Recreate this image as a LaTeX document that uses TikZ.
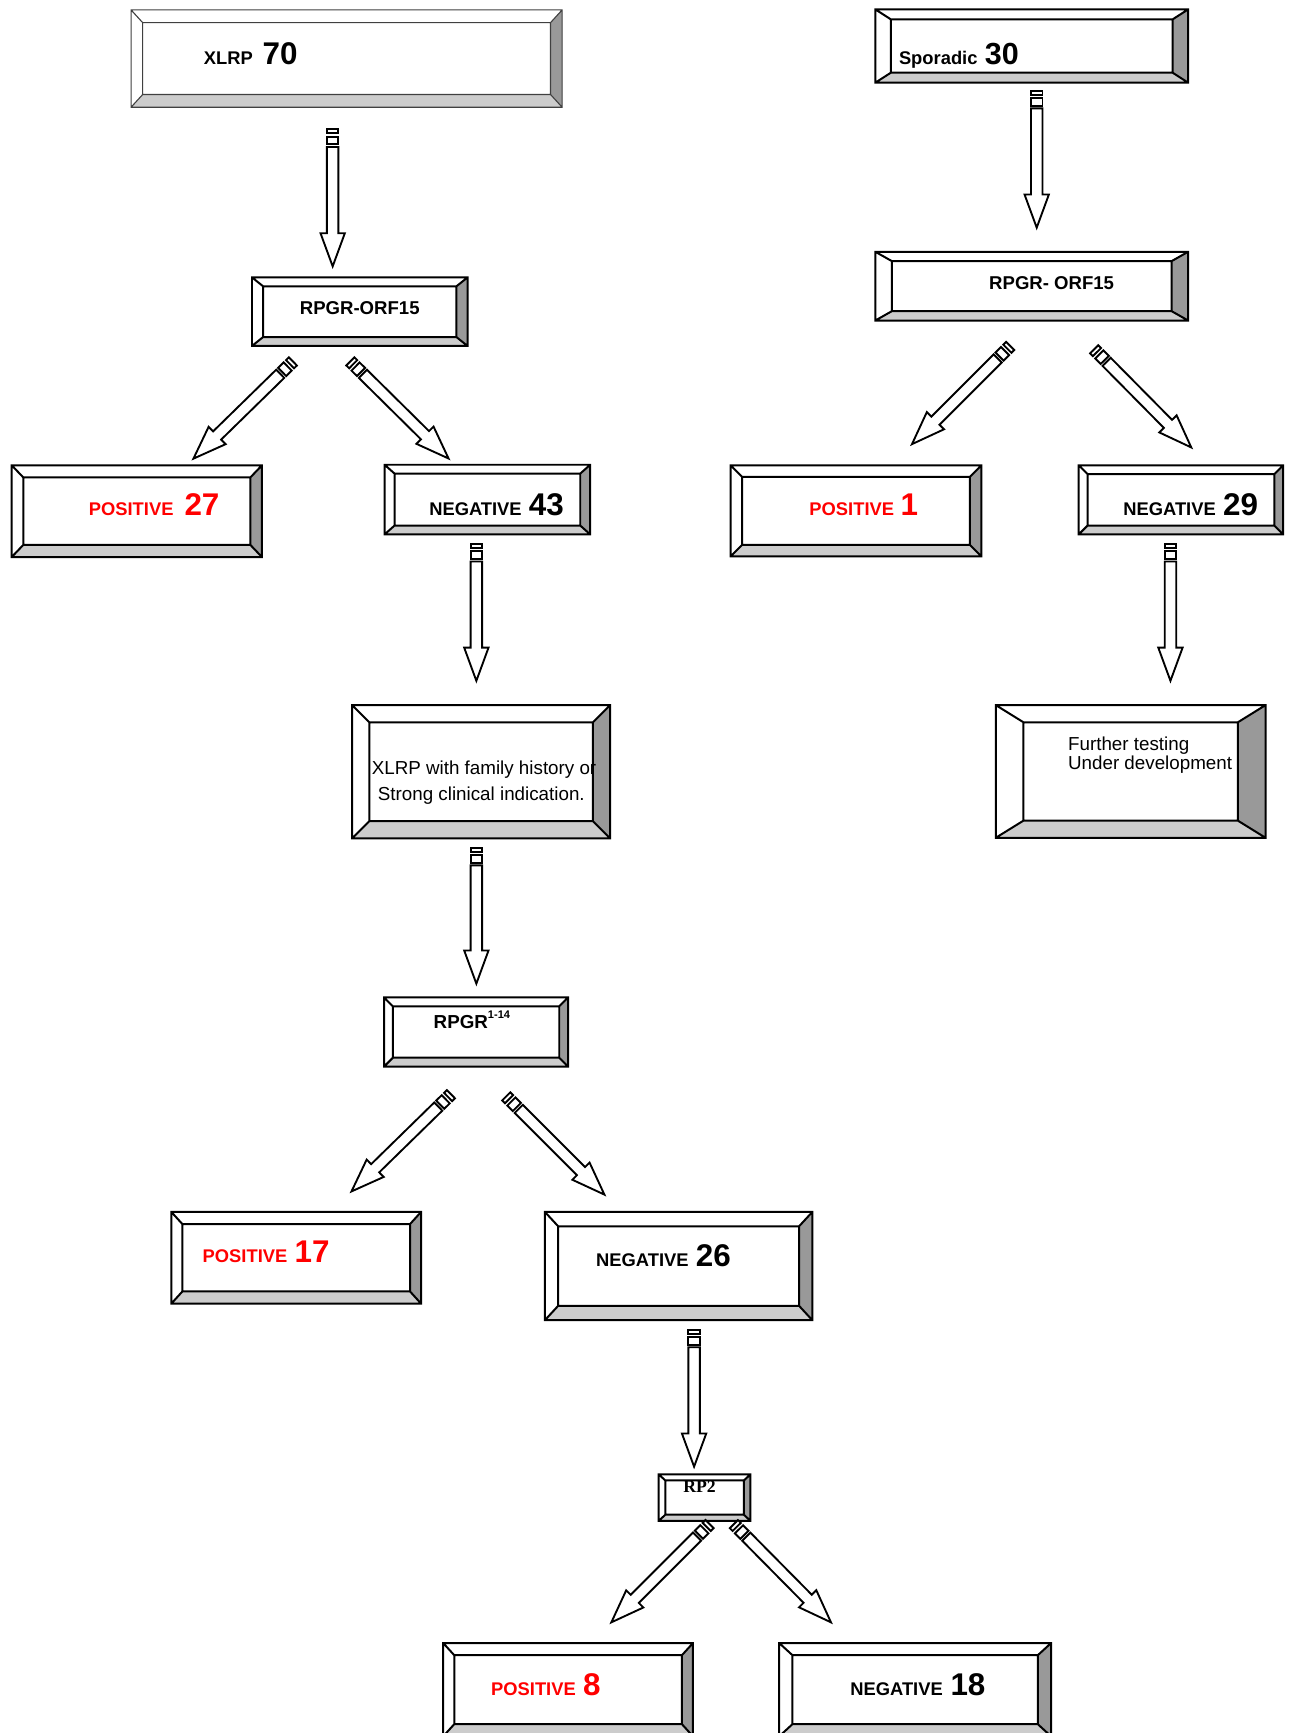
\documentclass[tikz,border=0pt]{standalone}
\usepackage{fontspec}
\setmainfont{Liberation Sans}
\newfontfamily\rpserif{Liberation Serif}
\usetikzlibrary{calc,fit}
\tikzset{
  boxline/.style={line width=0.9pt, draw=black, line join=miter},
  thinbox/.style={line width=0.5pt, draw=black!75},
  arrowline/.style={line width=0.85pt, draw=black, fill=white, line join=miter},
  lbl/.style={inner sep=0pt, anchor=base west, font=\bfseries},
  plain/.style={inner sep=0pt, font=\fontsize{8.5}{10}\selectfont},
  poslbl/.style={lbl, text=red},
}
\newcommand\smlbl[1]{{\fontsize{8.3}{10}\selectfont #1}}
\newcommand\biglbl[1]{{\fontsize{14.2}{16}\selectfont #1}}
% #1 style, #2 name, #3 x1, #4 y1, #5 x2, #6 y2, #7 hx, #8 hy
\newcommand\bevelbox[8][]{%
  \fill[white] (#3,#4) rectangle (#5,#6);
  \fill[black!40] (#5,#4) -- (#5-#7,#4+#8) -- (#5-#7,#6-#8) -- (#5,#6) -- cycle;
  \fill[black!20] (#3,#6) -- (#3+#7,#6-#8) -- (#5-#7,#6-#8) -- (#5,#6) -- cycle;
  \draw[boxline,#1] (#3,#4) rectangle (#5,#6) (#3+#7,#4+#8) rectangle (#5-#7,#6-#8)
    (#3,#4) -- (#3+#7,#4+#8) (#5,#4) -- (#5-#7,#4+#8)
    (#3,#6) -- (#3+#7,#6-#8) (#5,#6) -- (#5-#7,#6-#8);
  \node[fit={(#3,#4) (#5,#6)}, inner sep=0pt] (#2) {};
}
\newcommand\blockarrow[2]{%
  \path let \p1=($(#2)-(#1)$) in \pgfextra{%
    \pgfmathparse{atan2(\y1,\x1)}\xdef\baang{\pgfmathresult}%
    \pgfmathparse{veclen(\x1,\y1)}\xdef\balen{\pgfmathresult}};
  \begin{scope}[shift={(#1)}, rotate=\baang]
    \draw[arrowline] (0pt,-2.6pt) rectangle (1.8pt,2.6pt);
    \draw[arrowline] (3.3pt,-2.6pt) rectangle (6.8pt,2.6pt);
    \draw[arrowline] (8pt,2.6pt) -- (\balen pt-15pt,2.6pt) -- (\balen pt-15pt,5.5pt)
      -- (\balen pt,0pt) -- (\balen pt-15pt,-5.5pt) -- (\balen pt-15pt,-2.6pt)
      -- (8pt,-2.6pt) -- cycle;
  \end{scope}}
\begin{document}
\begin{tikzpicture}[x=0.5pt,y=-0.5pt]
\useasboundingbox (0,0) rectangle (1171,1568);
\clip (0,0) rectangle (1171,1568);
\fill[white] (0,0) rectangle (1171,1568);

% ---------- boxes ----------
\bevelbox[thinbox]{xlrp}{118.6}{9}{508.6}{97}{10.5}{11.5}
\bevelbox{orfL}{228}{251}{423}{313}{10}{8}
\bevelbox{pos27}{10.6}{421}{237}{504}{10.5}{11}
\bevelbox{neg43}{348}{420.5}{534}{483.5}{9}{8}
\bevelbox{fam}{318.6}{638}{552}{758.5}{15.5}{15.5}
\bevelbox{rpgr}{347.5}{902.5}{514}{965}{8}{8}
\bevelbox{pos17}{155}{1096.5}{381}{1179.5}{10}{11}
\bevelbox{neg26}{493}{1096.5}{735}{1194.5}{12}{13}
\bevelbox{rp2}{596}{1334}{679}{1376}{6}{5.5}
\bevelbox{pos8}{401}{1486.6}{627}{1571}{10}{11}
\bevelbox{neg18}{705}{1486.6}{951}{1571}{12}{11}
\bevelbox{spor}{792}{8.5}{1075}{74.8}{14}{9}
\bevelbox{orfR}{792}{227.8}{1075}{290}{15}{8.5}
\bevelbox{pos1}{661}{421}{888}{503.5}{10.5}{10.5}
\bevelbox{neg29}{976}{421}{1161}{483.5}{8}{8}
\bevelbox{further}{901}{638}{1145}{758}{25}{15.5}

% ---------- texts ----------
\node[lbl] (txlrp) at (184,58.8) {\smlbl{XLRP}\hspace{4.5pt}\biglbl{70}};
\node[inner sep=0pt, anchor=base, font=\bfseries\fontsize{8.4}{10}\selectfont] (torfL) at (325.5,285) {RPGR-ORF15};
\node[poslbl] (tpos27) at (80,466) {\smlbl{POSITIVE}\hspace{5pt}\biglbl{27}};
\node[lbl] (tneg43) at (388,466) {\smlbl{NEGATIVE}\hspace{3.3pt}\biglbl{43}};
\node[plain, anchor=base west] (tfam1) at (336,701) {XLRP with family history or};
\node[plain, anchor=base] (tfam2) at (435.5,724) {Strong clinical indication.};
\node[lbl] (trpgr) at (392,931) {{\fontsize{8.5}{10}\selectfont RPGR}\raisebox{4.6pt}{\fontsize{5}{6}\selectfont 1-14}};
\node[poslbl] (tpos17) at (183,1142) {\smlbl{POSITIVE}\hspace{3.3pt}\biglbl{17}};
\node[lbl] (tneg26) at (539,1146.3) {\smlbl{NEGATIVE}\hspace{3.3pt}\biglbl{26}};
\node[inner sep=0pt, anchor=base, font=\rpserif\bfseries\fontsize{8}{10}\selectfont] (trp2) at (633,1350.5) {RP2};
\node[poslbl] (tpos8) at (444,1534) {\smlbl{POSITIVE}\hspace{3.3pt}\biglbl{8}};
\node[lbl] (tneg18) at (769,1534) {\smlbl{NEGATIVE}\hspace{3.5pt}\biglbl{18}};
\node[lbl] (tspor) at (813,58) {{\fontsize{8.3}{10}\selectfont Sporadic}\hspace{3.3pt}{\fontsize{13.8}{16}\selectfont 30}};
\node[inner sep=0pt, anchor=base, font=\bfseries\fontsize{8.4}{10}\selectfont] (torfR) at (951.5,262) {RPGR- ORF15};
\node[poslbl] (tpos1) at (732,466) {\smlbl{POSITIVE}\hspace{3pt}\biglbl{1}};
\node[lbl] (tneg29) at (1016,466) {\smlbl{NEGATIVE}\hspace{3.3pt}\biglbl{29}};
\node[plain, anchor=base west] (tfur1) at (966,679) {Further testing};
\node[plain, anchor=base west] (tfur2) at (966,696) {Under development};

% ---------- arrow end points ----------
\coordinate (a1s) at (301,117);   \coordinate (a1e) at (301,241);
\coordinate (a2s) at (265,327);   \coordinate (a2e) at (175,415);
\coordinate (a3s) at (317,327);   \coordinate (a3e) at (406,415);
\coordinate (a4s) at (431,492);   \coordinate (a4e) at (431,616);
\coordinate (a5s) at (431,767);   \coordinate (a5e) at (431,890);
\coordinate (a6s) at (408,990);   \coordinate (a6e) at (318,1078);
\coordinate (a7s) at (458,992);   \coordinate (a7e) at (547,1081);
\coordinate (a8s) at (628,1203);  \coordinate (a8e) at (628,1327);
\coordinate (a9s) at (642,1379);  \coordinate (a9e) at (553,1468);
\coordinate (a10s) at (664,1379); \coordinate (a10e) at (752,1468);
\coordinate (a11s) at (938,82);   \coordinate (a11e) at (938,206);
\coordinate (a12s) at (914,313);  \coordinate (a12e) at (825,402);
\coordinate (a13s) at (990,316);  \coordinate (a13e) at (1078,405);
\coordinate (a14s) at (1059,492); \coordinate (a14e) at (1059,616);

\blockarrow{a1s}{a1e}
\blockarrow{a2s}{a2e}
\blockarrow{a3s}{a3e}
\blockarrow{a4s}{a4e}
\blockarrow{a5s}{a5e}
\blockarrow{a6s}{a6e}
\blockarrow{a7s}{a7e}
\blockarrow{a8s}{a8e}
\blockarrow{a9s}{a9e}
\blockarrow{a10s}{a10e}
\blockarrow{a11s}{a11e}
\blockarrow{a12s}{a12e}
\blockarrow{a13s}{a13e}
\blockarrow{a14s}{a14e}
\end{tikzpicture}
\end{document}
